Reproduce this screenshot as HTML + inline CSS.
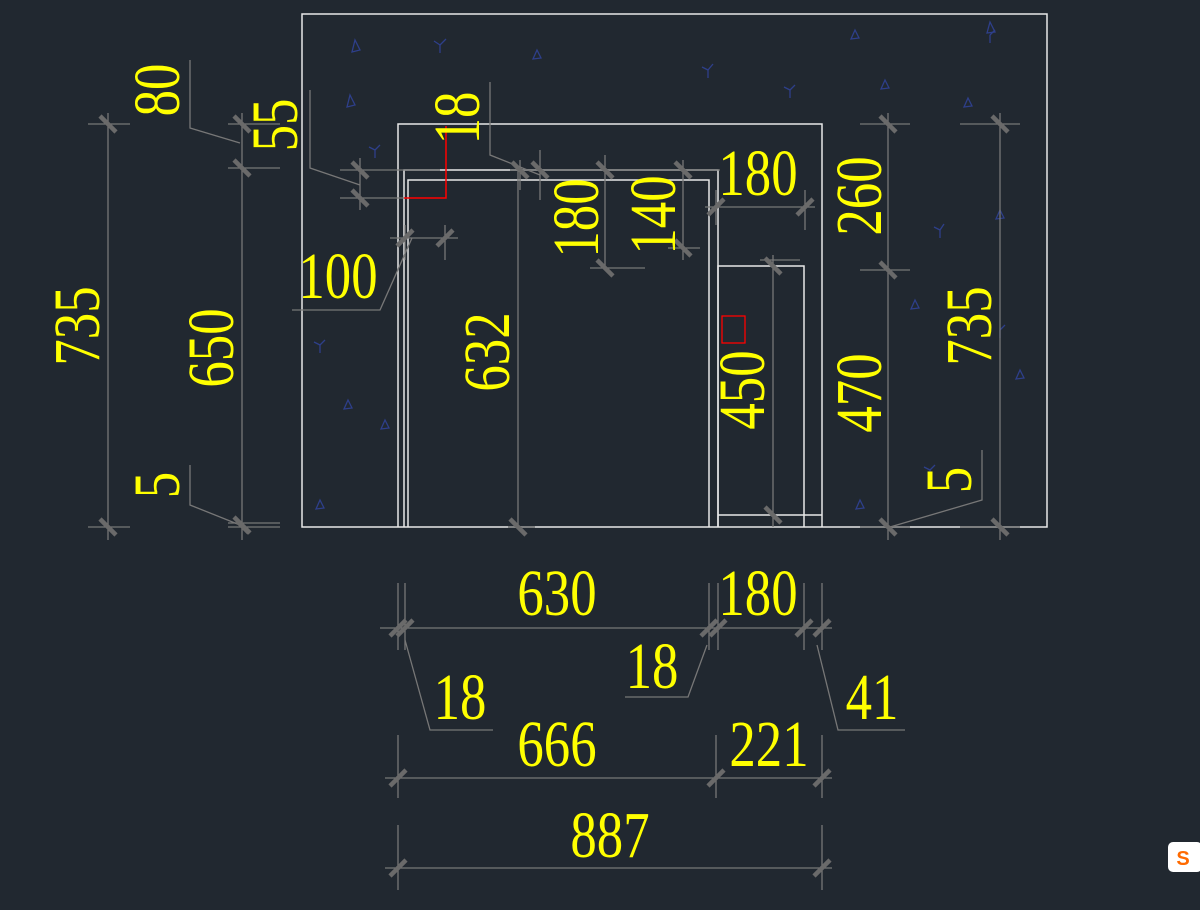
<!DOCTYPE html>
<html><head><meta charset="utf-8"><style>
html,body{margin:0;padding:0;background:#212830;}
svg{display:block}
text{font-family:"Liberation Serif",serif;fill:#ffff00;font-size:66px;}
.w{stroke:#e8e8e8;stroke-width:1.5;fill:none}
.g{stroke:#777;stroke-width:1.3;fill:none}
.t{stroke:#6a6a6a;stroke-width:4.5}
.b{stroke:#2e3f8a;stroke-width:1.3;fill:none}
</style></head><body>
<svg width="1200" height="910" viewBox="0 0 1200 910" xmlns="http://www.w3.org/2000/svg">
<g class="b">
<path d="M355 40 l5 10 l-8 2z"/><path d="M440 45 l6 -6 m-6 6 l0 8 m0-8 l-6 -4"/><path d="M537 50 l4 8 l-8 1z"/>
<path d="M708 70 l5 -6 m-5 6 l0 8 m0-8 l-6 -3"/><path d="M855 30 l4 8 l-8 1z"/><path d="M990 22 l5 10 l-8 1z"/>
<path d="M350 95 l5 10 l-8 2z"/><path d="M885 80 l4 8 l-8 1z"/><path d="M968 98 l4 8 l-8 1z"/>
<path d="M1000 210 l4 8 l-8 1z"/><path d="M940 230 l4 -6 m-4 6 l0 8 m0-8 l-6 -3"/><path d="M990 35 l5 -5 m-5 5 l0 8"/>
<path d="M320 345 l5 -5 m-5 5 l0 8 m0-8 l-6 -3"/><path d="M348 400 l4 8 l-8 1z"/><path d="M385 420 l4 8 l-8 1z"/>
<path d="M320 500 l4 8 l-8 1z"/><path d="M1020 370 l4 8 l-8 1z"/><path d="M915 300 l4 8 l-8 1z"/>
<path d="M930 470 l5 -5 m-5 5 l0 8 m0-8 l-6 -3"/><path d="M860 500 l4 8 l-8 1z"/><path d="M1000 330 l5 -5 m-5 5 l0 8"/>
<path d="M375 150 l5 -5 m-5 5 l0 8 m0-8 l-6 -3"/><path d="M790 90 l5 -5 m-5 5 l0 8 m0-8 l-6 -3"/>
</g>
<path class="w" d="M398 527 L302 527 L302 14 L1047 14 L1047 527 L822 527"/>
<path class="w" d="M398 527 L398 124 L822 124 L822 527"/>
<path class="w" d="M398 527 L822 527"/>
<path class="w" d="M404 527 L404 170 L718 170 L718 527"/>
<path class="w" d="M408 527 L408 180 L709 180 L709 527"/>
<path class="w" d="M718 527 L718 266 L804 266 L804 527"/>
<path class="w" d="M718 515 L822 515"/>
<path d="M404 198 L446 198 L446 126" stroke="#ff0000" stroke-width="1.5" fill="none"/>
<rect x="722" y="316" width="23" height="27" stroke="#ff0000" stroke-width="1.3" fill="none"/>
<g class="g">
<path d="M108 113 V540 M88 124 H130 M88 527 H130"/>
<path d="M242 113 V540 M228 124 H280 M228 168 H280 M228 527 H280 M228 523 H280"/>
<path d="M190 60 V128 L240 143"/>
<path d="M190 465 V505 L240 525"/>
<path d="M888 113 V540 M860 124 H910 M860 270 H910 M860 527 H910"/>
<path d="M1000 113 V540 M960 124 H1020 M960 527 H1020"/>
<path d="M982 450 V500 L890 527"/>
<path d="M518 168 V527 M508 527 H535"/>
<path d="M340 170 H440 M340 198 H404 M360 158 V210"/>
<path d="M310 90 V168 L360 185"/>
<path d="M490 82 V155 L540 175"/>
<path d="M510 170 H720 M520 160 V190 M540 150 V200"/>
<path d="M605 155 V268 M590 268 H645 M683 160 V260 M668 248 H700"/>
<path d="M705 207 H815 M716 190 V225 M805 190 V230"/>
<path d="M773 255 V527 M760 260 H800"/>
<path d="M390 238 H458 M405 225 V260 M445 225 V260 M412 238 L380 310 H292"/>
<path d="M380 628 H832"/>
<path d="M398 583 V650 M405 583 V650 M709 583 V650 M718 583 V650 M804 583 V650 M822 583 V650"/>
<path d="M405 640 L430 730 H493"/>
<path d="M707 645 L688 697 H625"/>
<path d="M817 645 L838 730 H905"/>
<path d="M385 778 H832 M398 735 V798 M716 735 V798 M822 735 V798"/>
<path d="M385 868 H832 M398 825 V890 M822 825 V890"/>
</g>
<g class="t">
<path d="M100 116 l16 16 M100 519 l16 16 M234 116 l16 16 M234 160 l16 16 M234 517 l16 16 M237 521 l12 12"/>
<path d="M880 116 l16 16 M880 262 l16 16 M880 519 l16 16 M992 116 l16 16 M992 519 l16 16"/>
<path d="M510 519 l16 16 M352 162 l16 16 M352 190 l16 16 M512 162 l16 16 M532 162 l16 16 M597 162 l16 16 M675 162 l16 16 M597 260 l16 16 M675 240 l16 16 M765 258 l16 16 M765 507 l16 16"/>
<path d="M708 215 l16 -16 M797 215 l16 -16 M397 246 l16 -16 M437 246 l16 -16"/>
<path d="M390 636 l16 -16 M397 636 l16 -16 M701 636 l16 -16 M710 636 l16 -16 M796 636 l16 -16 M814 636 l16 -16"/>
<path d="M390 786 l16 -16 M708 786 l16 -16 M814 786 l16 -16 M390 876 l16 -16 M814 876 l16 -16"/>
</g>
<g text-anchor="middle">
<text transform="translate(99,326) rotate(-90) scale(0.8,1)">735</text>
<text transform="translate(233,348) rotate(-90) scale(0.8,1)">650</text>
<text transform="translate(179,90) rotate(-90) scale(0.8,1)">80</text>
<text transform="translate(297,125) rotate(-90) scale(0.8,1)">55</text>
<text transform="translate(179,485) rotate(-90) scale(0.8,1)">5</text>
<text transform="translate(509,352) rotate(-90) scale(0.8,1)">632</text>
<text transform="translate(479,118) rotate(-90) scale(0.8,1)">18</text>
<text transform="translate(598,218) rotate(-90) scale(0.8,1)">180</text>
<text transform="translate(675,215) rotate(-90) scale(0.8,1)">140</text>
<text transform="translate(764,390) rotate(-90) scale(0.8,1)">450</text>
<text transform="translate(881,196) rotate(-90) scale(0.8,1)">260</text>
<text transform="translate(881,393) rotate(-90) scale(0.8,1)">470</text>
<text transform="translate(991,326) rotate(-90) scale(0.8,1)">735</text>
<text transform="translate(971,480) rotate(-90) scale(0.8,1)">5</text>
<text transform="translate(758,195) scale(0.8,1)">180</text>
<text transform="translate(338,298) scale(0.8,1)">100</text>
<text transform="translate(557,615) scale(0.8,1)">630</text>
<text transform="translate(758,615) scale(0.8,1)">180</text>
<text transform="translate(652,688) scale(0.8,1)">18</text>
<text transform="translate(460,719) scale(0.8,1)">18</text>
<text transform="translate(872,719) scale(0.8,1)">41</text>
<text transform="translate(557,766) scale(0.8,1)">666</text>
<text transform="translate(769,766) scale(0.8,1)">221</text>
<text transform="translate(610,857) scale(0.8,1)">887</text>
</g>
<rect x="1168" y="842" width="34" height="30" rx="5" fill="#ffffff"/>
<text x="1183" y="865" text-anchor="middle" style="font-family:'Liberation Sans',sans-serif;font-size:20px;font-weight:bold;fill:#ff6a00">S</text>
</svg>
</body></html>
